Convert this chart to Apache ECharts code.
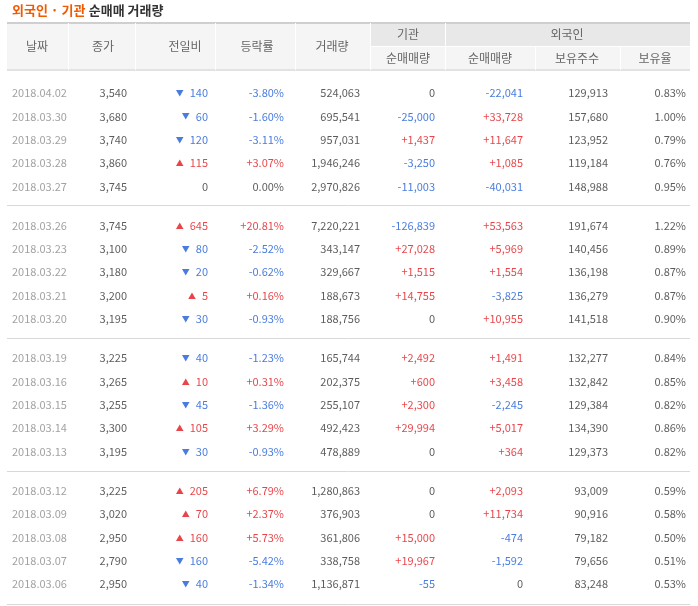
<!DOCTYPE html>
<html><head><meta charset="utf-8">
<script src="https://cdn.jsdelivr.net/npm/echarts@6/dist/echarts.min.js"></script>
<style>html,body{margin:0;padding:0;background:#fff}#c{width:698px;height:606px}</style>
</head><body><div id="c"></div>
<script>
const dates=['2018.04.02','2018.03.30','2018.03.29','2018.03.28','2018.03.27','2018.03.26','2018.03.23','2018.03.22','2018.03.21','2018.03.20','2018.03.19','2018.03.16','2018.03.15','2018.03.14','2018.03.13','2018.03.12','2018.03.09','2018.03.08','2018.03.07','2018.03.06'];
const closePrice=[3540,3680,3740,3860,3745,3745,3100,3180,3200,3195,3225,3265,3255,3300,3195,3225,3020,2950,2790,2950];
const change=[-140,-60,-120,115,0,645,-80,-20,5,-30,-40,10,-45,105,-30,205,70,160,-160,-40];
const rate=[-3.80,-1.60,-3.11,3.07,0.00,20.81,-2.52,-0.62,0.16,-0.93,-1.23,0.31,-1.36,3.29,-0.93,6.79,2.37,5.73,-5.42,-1.34];
const volume=[524063,695541,957031,1946246,2970826,7220221,343147,329667,188673,188756,165744,202375,255107,492423,478889,1280863,376903,361806,338758,1136871];
const instNet=[0,-25000,1437,-3250,-11003,-126839,27028,1515,14755,0,2492,600,2300,29994,0,0,0,15000,19967,-55];
const foreignNet=[-22041,33728,11647,1085,-40031,53563,5969,1554,-3825,10955,1491,3458,-2245,5017,364,2093,11734,-474,-1592,0];
const holdings=[129913,157680,123952,119184,148988,191674,140456,136198,136279,141518,132277,132842,129384,134390,129373,93009,90916,79182,79656,83248];
const holdRatio=[0.83,1.00,0.79,0.76,0.95,1.22,0.89,0.87,0.87,0.90,0.84,0.85,0.82,0.86,0.82,0.59,0.58,0.50,0.51,0.53];

const RED='#e4151b', BLUE='#1b5bd6', DARK='#333', GRAY='#8a8a8a';
const FONT='"Noto Sans CJK KR","Noto Sans",sans-serif';
const rowY=i=>93+i*23.33+Math.floor(i/5)*16;
const fmt=v=>v.toLocaleString('en-US');
const sgn=v=>v>0?'+'+fmt(v):fmt(v);
const col=v=>v>0?RED:(v<0?BLUE:DARK);

function textSeries(x,values,formatter,color,align,rich){
  return {type:'scatter',symbolSize:0,silent:true,
    data:values.map((v,i)=>({value:[x,rowY(i)],raw:v,
      label:{color:typeof color==='function'?color(v):color}})),
    label:{show:true,position:'inside',align:align||'right',verticalAlign:'middle',
      fontFamily:FONT,fontSize:11,formatter:p=>formatter(p.data.raw),rich:rich}};
}

const series=[
  textSeries(12,dates,v=>v,GRAY,'left'),
  textSeries(127,closePrice,fmt,DARK),
  textSeries(208,change,v=>v===0?'0':'{a|'+(v>0?'▲':'▼')+'}'+Math.abs(v),col,'right',
    {a:{fontSize:8,padding:[0,6,0,0]}}),
  textSeries(284,rate,v=>(v>0?'+':'')+v.toFixed(2)+'%',col),
  textSeries(360,volume,fmt,DARK),
  textSeries(435,instNet,sgn,col),
  textSeries(523,foreignNet,sgn,col),
  textSeries(608,holdings,fmt,DARK),
  textSeries(686,holdRatio,v=>v.toFixed(2)+'%',DARK)
];
series[0].markLine={silent:true,symbol:'none',label:{show:false},
  lineStyle:{color:'#d8d8d8',type:'solid',width:1},
  data:[205,338,471,604].map(y=>[{coord:[7,y]},{coord:[690,y]}])};

const hdr=(t,x,y)=>({type:'text',style:{text:t,x:x,y:y,align:'center',verticalAlign:'middle',fill:'#666',font:'12px '+FONT}});
const graphic=[
  {type:'rect',shape:{x:7,y:23,width:683,height:47},style:{fill:'#f5f5f5'}},
  {type:'rect',shape:{x:370,y:23,width:320,height:23},style:{fill:'#e8e8e8'}},
  {type:'rect',shape:{x:7,y:22,width:683,height:2},style:{fill:'#cfcfcf'}},
  {type:'rect',shape:{x:7,y:69,width:683,height:2},style:{fill:'#e2e2e2'}},
  ...[68,135,215,295,370].map(x=>({type:'rect',shape:{x:x,y:23,width:1,height:47},style:{fill:'#fff'}})),
  ...[445,535,620].map(x=>({type:'rect',shape:{x:x,y:47,width:1,height:23},style:{fill:'#fff'}})),
  {type:'rect',shape:{x:445,y:23,width:1,height:24},style:{fill:'#fff'}},
  {type:'rect',shape:{x:370,y:46,width:320,height:1},style:{fill:'#fff'}},
  hdr('날짜',37,46),hdr('종가',103,46),hdr('전일비',185,46),hdr('등락률',257,46),hdr('거래량',332,46),
  hdr('기관',408,34),hdr('외국인',567,34),
  hdr('순매매량',408,58),hdr('순매매량',490,58),hdr('보유주수',577,58),hdr('보유율',655,58),
  {type:'text',style:{x:12,y:10,verticalAlign:'middle',
    text:'{o|외국인 · 기관} {d|순매매 거래량}',
    rich:{o:{fill:'#f05a00',fontSize:13,fontWeight:'bold',fontFamily:FONT},
      d:{fill:'#333',fontSize:13,fontWeight:'bold',fontFamily:FONT}}}}
];

const chart=echarts.init(document.getElementById('c'));
chart.setOption({
  animation:false,
  grid:{left:0,right:0,top:0,bottom:0},
  xAxis:{type:'value',min:0,max:698,show:false},
  yAxis:{type:'value',min:0,max:606,inverse:true,show:false},
  graphic:graphic,
  series:series
});
</script></body></html>
